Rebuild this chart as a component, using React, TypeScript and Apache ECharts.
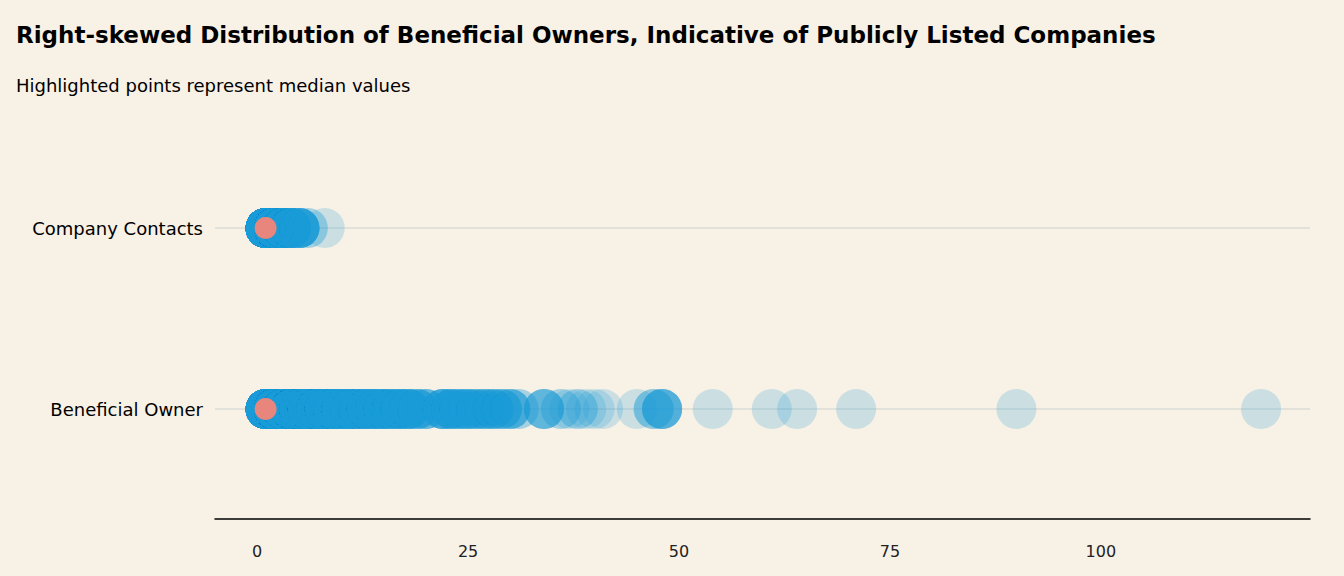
import { useEffect, useRef } from "react";
import * as echarts from "echarts";

const categories = ["Beneficial Owner", "Company Contacts"];
const xTicks = [0, 25, 50, 75, 100];

// value -> number of companies at that value (read approx from overlap density)
const ownerValues = [1, 2, 3, 4, 5, 6, 7, 8, 9, 10, 11, 12, 13, 14, 15, 16, 17, 18, 19, 20, 22, 23, 24, 25, 26, 27, 28, 29, 30, 31, 34, 36, 37, 38, 39, 40, 41, 45, 47, 48, 54, 61, 64, 71, 90, 119];
const ownerCounts = [40, 35, 30, 28, 25, 22, 20, 18, 16, 15, 14, 13, 12, 12, 11, 10, 10, 9, 6, 5, 8, 8, 7, 7, 6, 6, 6, 5, 5, 2, 5, 2, 1, 2, 1, 1, 1, 1, 3, 6, 1, 1, 1, 1, 1, 1];
const contactValues = [1, 2, 3, 4, 5, 6, 8];
const contactCounts = [60, 40, 25, 15, 10, 2, 1];
const medians = [1, 1];

export default function App() {
  const ref = useRef<HTMLDivElement>(null);

  useEffect(() => {
    document.body.style.margin = "0";
    if (!ref.current) return;
    const chart = echarts.init(ref.current, null, { renderer: "svg" });

    const expand = (vals: number[], counts: number[], cat: number) => {
      const pts: number[][] = [];
      vals.forEach((v, i) => {
        for (let k = 0; k < counts[i]; k++) pts.push([v, cat]);
      });
      return pts;
    };

    chart.setOption({
      animation: false,
      backgroundColor: "#f8f1e6",
      textStyle: { fontFamily: "DejaVu Sans, sans-serif" },
      title: {
        text: "Right-skewed Distribution of Beneficial Owners, Indicative of Publicly Listed Companies",
        subtext: "Highlighted points represent median values",
        left: 11,
        top: 18,
        itemGap: 30,
        textStyle: { fontSize: 23, fontWeight: "bold", color: "#000", fontFamily: "DejaVu Sans" },
        subtextStyle: { fontSize: 18, color: "#000", fontFamily: "DejaVu Sans" },
      },
      grid: { left: 215, right: 34, top: 137.5, bottom: 76.5 },
      xAxis: {
        type: "value",
        min: -5,
        max: 124.8,
        offset: 19.5,
        axisLine: { show: true, lineStyle: { color: "#000", width: 1.5 } },
        axisTick: { show: false },
        splitLine: { show: false },
        axisLabel: { customValues: xTicks, color: "#222", fontSize: 16, margin: 24 },
      },
      yAxis: {
        type: "category",
        data: categories,
        axisLine: { show: false },
        axisTick: { show: false },
        splitLine: { show: false },
        axisLabel: { color: "#000", fontSize: 18, margin: 12 },
      },
      series: [
        ...categories.map((c) => ({
          type: "line",
          z: 1,
          data: [[-5, c], [124.8, c]],
          symbol: "none",
          silent: true,
          lineStyle: { color: "#dcdcd6", width: 1.5 },
        })),
        {
          type: "scatter",
          z: 3,
          symbolSize: 40,
          itemStyle: { color: "#1b9ad6", opacity: 0.2 },
          data: [
            ...expand(ownerValues, ownerCounts, 0),
            ...expand(contactValues, contactCounts, 1),
          ],
        },
        {
          type: "scatter",
          z: 4,
          symbolSize: 22,
          itemStyle: { color: "#e8857c", opacity: 1 },
          data: medians.map((m, i) => [m, i]),
        },
      ],
    });

    return () => chart.dispose();
  }, []);

  return <div ref={ref} style={{ width: 1344, height: 576 }} />;
}
